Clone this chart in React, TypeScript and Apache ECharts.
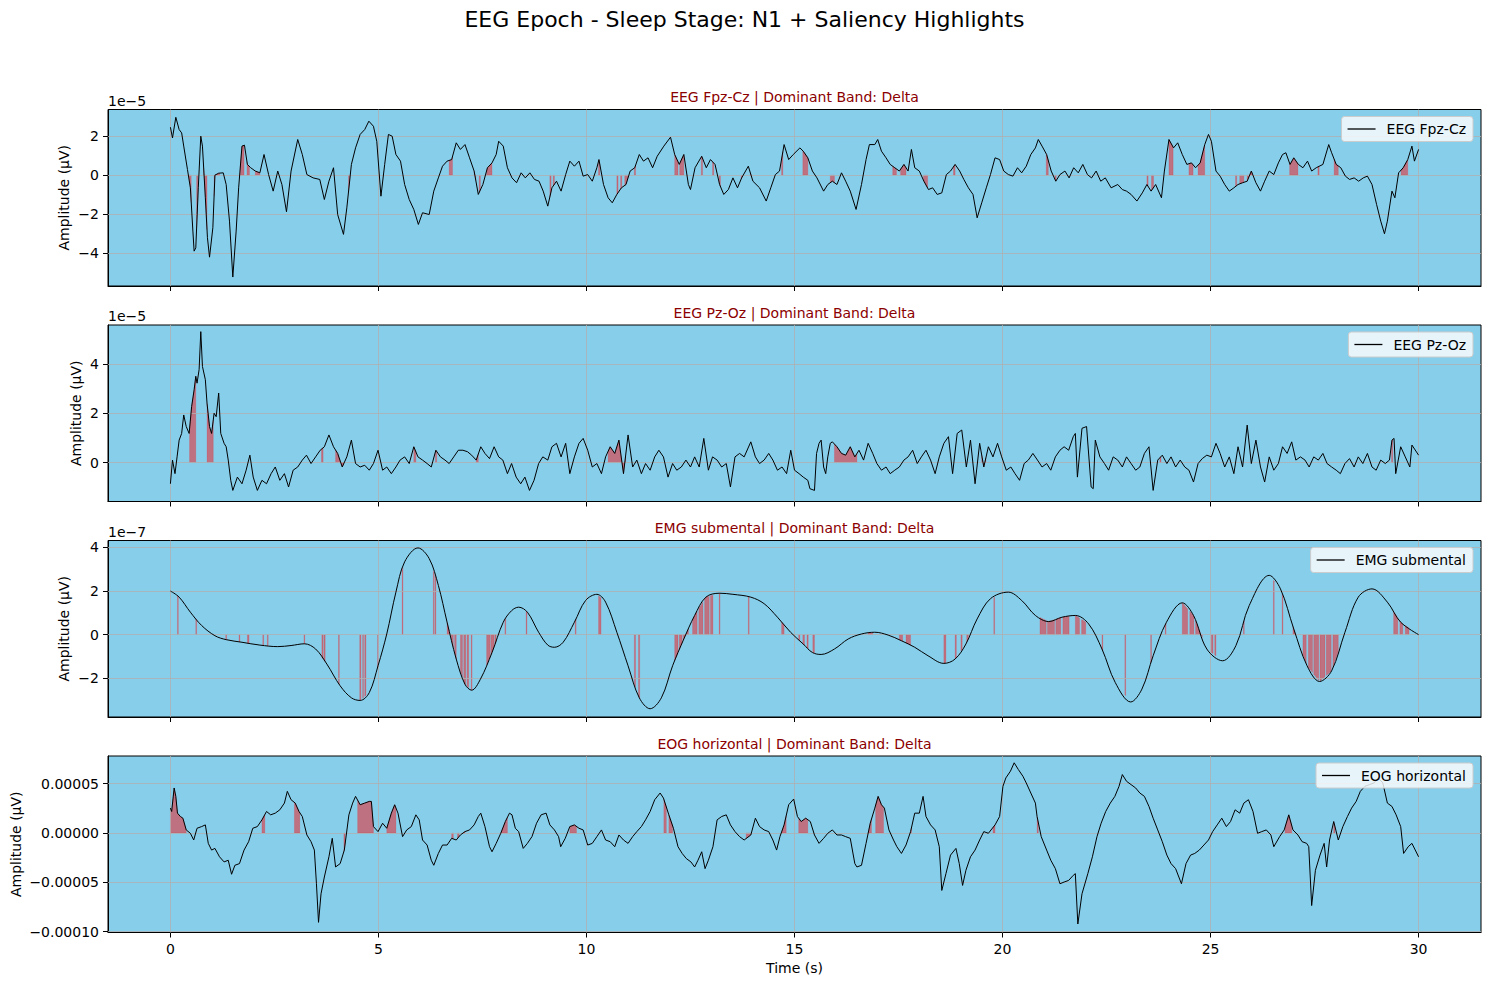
import { useEffect, useRef } from "react";
import * as echarts from "echarts";

const FONT = "DejaVu Sans";

// x ticks (seconds)
const X_TICKS = [0, 5, 10, 15, 20, 25, 30];

// EEG Fpz-Cz (units of 1e-5)
const FPZ_CZ: [number, number][] = [
    [0, 2.46], [0.05, 1.91], [0.13, 2.97], [0.21, 2.34], [0.27, 2.17], [0.32, 1.49], [0.41, 0.29], [0.48, -0.65],
    [0.54, -2.87], [0.57, -3.9], [0.61, -3.73], [0.67, -0.65], [0.73, 2.0], [0.77, 1.49], [0.84, -1.16], [0.89, -3.21],
    [0.94, -4.21], [1.02, -2.7], [1.07, 0], [1.16, 0.1], [1.27, 0.12], [1.34, -0.48], [1.42, -2.36], [1.5, -5.23],
    [1.58, -2.87], [1.64, -0.65], [1.72, 1.49], [1.78, 1.54], [1.85, 0.55], [1.93, 0.38], [2.04, 0.21], [2.15, 0.12],
    [2.25, 1.06], [2.36, 0.03], [2.47, -0.82], [2.58, 0.21], [2.68, -0.48], [2.79, -1.88], [2.9, 0.21], [3.06, 1.83],
    [3.17, 1.06], [3.28, 0.03], [3.43, -0.14], [3.59, -0.22], [3.7, -1.25], [3.81, -0.31], [3.92, 0.38], [4.02, -2.02],
    [4.16, -3.04], [4.24, -1.68], [4.35, 0.55], [4.45, 1.4], [4.56, 2.09], [4.67, 2.34], [4.77, 2.77], [4.88, 2.51],
    [4.96, 1.74], [5.06, -1.08], [5.15, 0.55], [5.24, 2.09], [5.33, 2.0], [5.42, 1.06], [5.53, 0.72], [5.63, -0.48],
    [5.74, -1.25], [5.85, -1.76], [5.96, -2.53], [6.06, -1.93], [6.22, -2.02], [6.33, -0.82], [6.44, -0.14], [6.54, 0.46],
    [6.65, 0.72], [6.76, 0.8], [6.87, 1.66], [6.97, 1.32], [7.08, 1.57], [7.19, 0.89], [7.3, 0.21], [7.4, -0.99],
    [7.51, -0.48], [7.62, 0.38], [7.73, 0.63], [7.83, 1.06], [7.89, 1.74], [8.0, 1.49], [8.1, 0.38], [8.21, -0.14],
    [8.32, -0.39], [8.43, 0.12], [8.53, -0.14], [8.64, 0.12], [8.75, -0.22], [8.86, -0.31], [8.96, -0.82], [9.07, -1.59],
    [9.17, -0.65], [9.28, -0.31], [9.39, -0.82], [9.5, 0.03], [9.6, 0.72], [9.71, 0.46], [9.82, 0.72], [9.92, -0.05],
    [10.03, 0.03], [10.14, -0.31], [10.25, 0.38], [10.3, 0.8], [10.41, -0.48], [10.52, -1.16], [10.62, -1.42], [10.73, -0.99],
    [10.84, -0.65], [10.95, -0.48], [11.05, 0.21], [11.16, 0.38], [11.27, 1.06], [11.37, 0.72], [11.48, 0.89], [11.59, 0.38],
    [11.7, 0.97], [11.86, 1.49], [12.02, 1.95], [12.12, 1.06], [12.23, 0.55], [12.34, 1.06], [12.45, -0.48], [12.5, -0.74],
    [12.61, 0.38], [12.77, 0.97], [12.88, 0.38], [12.98, 0.8], [13.09, 0.55], [13.2, -0.48], [13.3, -0.99], [13.41, -0.74],
    [13.52, -0.14], [13.63, -0.65], [13.73, -0.14], [13.89, 0.46], [14.0, -0.31], [14.16, -0.65], [14.32, -1.33], [14.43, -0.65],
    [14.54, 0.03], [14.64, 0.21], [14.75, 1.57], [14.86, 0.8], [14.97, 1.06], [15.13, 1.4], [15.21, 1.23], [15.32, 0.89],
    [15.43, 0.21], [15.54, -0.14], [15.7, -0.82], [15.8, -0.48], [15.91, -0.31], [16.02, -0.48], [16.13, 0.12], [16.23, -0.31],
    [16.34, -0.82], [16.48, -1.76], [16.61, -0.48], [16.72, 0.8], [16.8, 1.57], [16.93, 1.57], [17.0, 1.83], [17.09, 1.23],
    [17.2, 0.89], [17.3, 0.55], [17.41, 0.38], [17.52, 0.21], [17.63, 0.55], [17.73, 0.21], [17.81, 1.32], [17.89, 0.38],
    [18.0, 0.21], [18.11, -0.31], [18.22, -0.74], [18.32, -0.65], [18.43, -0.99], [18.54, -0.91], [18.65, 0.03], [18.75, 0.21],
    [18.86, 0.55], [18.97, 0.21], [19.07, -0.22], [19.18, -0.65], [19.29, -0.99], [19.39, -2.19], [19.5, -1.42], [19.61, -0.65],
    [19.71, 0.03], [19.82, 0.89], [19.93, 0.8], [20.03, 0.21], [20.14, 0.03], [20.25, -0.05], [20.36, 0.38], [20.46, 0.12],
    [20.57, 0.46], [20.68, 1.06], [20.79, 1.4], [20.86, 1.83], [20.95, 1.49], [21.06, 1.06], [21.17, 0.21], [21.28, -0.31],
    [21.38, 0.03], [21.5, 0.21], [21.6, -0.14], [21.71, 0.38], [21.82, 0.12], [21.93, 0.55], [22.04, 0.03], [22.14, -0.14],
    [22.25, 0.21], [22.36, -0.31], [22.47, -0.14], [22.61, -0.65], [22.77, -0.48], [22.88, -0.74], [22.98, -0.82], [23.09, -0.99],
    [23.23, -1.33], [23.36, -0.91], [23.47, -0.48], [23.57, -0.82], [23.68, -0.48], [23.82, -1.16], [23.89, 0.21], [24.0, 1.83],
    [24.11, 1.4], [24.21, 1.66], [24.32, 1.06], [24.43, 0.55], [24.54, 0.63], [24.64, 0.38], [24.75, 0.63], [24.86, 1.57],
    [24.95, 2.09], [25.02, 1.74], [25.13, 0.21], [25.23, -0.05], [25.34, -0.48], [25.45, -0.82], [25.56, -0.65], [25.66, -0.48],
    [25.77, -0.39], [25.88, -0.31], [25.98, 0.21], [26.09, -0.39], [26.2, -0.82], [26.3, -0.31], [26.41, 0.21], [26.52, 0.03],
    [26.63, 0.63], [26.73, 1.06], [26.81, 1.15], [26.91, 0.55], [27.0, 0.89], [27.11, 0.55], [27.22, 0.38], [27.33, 0.72],
    [27.43, 0.21], [27.54, 0.38], [27.7, 0.55], [27.84, 1.57], [27.91, 1.15], [28.02, 0.55], [28.13, 0.38], [28.24, -0.05],
    [28.34, -0.22], [28.45, -0.14], [28.56, -0.31], [28.67, -0.14], [28.77, -0.05], [28.88, -0.48], [28.99, -1.5], [29.09, -2.36],
    [29.18, -3.01], [29.25, -2.36], [29.36, -0.82], [29.43, -1.16], [29.52, 0.12], [29.63, 0.38], [29.74, 0.8], [29.84, 1.49],
    [29.9, 0.72], [30.0, 1.32],
];

// EEG Pz-Oz (units of 1e-5)
const PZ_OZ: [number, number][] = [
    [0, -0.86], [0.05, 0.1], [0.11, -0.45], [0.16, 0.23], [0.21, 0.91], [0.27, 1.18], [0.32, 1.93], [0.38, 1.46],
    [0.45, 1.18], [0.51, 2.27], [0.57, 2.95], [0.61, 3.5], [0.64, 3.22], [0.69, 3.77], [0.73, 5.31], [0.77, 3.9],
    [0.84, 3.36], [0.88, 2.41], [0.94, 1.46], [0.99, 1.18], [1.05, 2.0], [1.1, 1.86], [1.16, 2.82], [1.21, 1.18],
    [1.29, 0.78], [1.34, 0.64], [1.39, 0.1], [1.45, -0.72], [1.5, -1.13], [1.61, -0.59], [1.72, -0.86], [1.82, -0.31],
    [1.91, 0.3], [1.99, -0.59], [2.09, -1.13], [2.2, -0.72], [2.31, -0.86], [2.42, -0.45], [2.52, -0.18], [2.63, -0.72],
    [2.74, -0.45], [2.84, -0.99], [2.95, -0.31], [3.06, -0.18], [3.17, 0.1], [3.27, 0.3], [3.38, -0.04], [3.49, 0.23],
    [3.6, 0.5], [3.7, 0.64], [3.81, 1.12], [3.92, 0.64], [4.02, 0.37], [4.13, -0.18], [4.24, 0.23], [4.35, 0.91],
    [4.45, -0.04], [4.56, -0.18], [4.67, -0.11], [4.78, -0.31], [4.88, -0.04], [4.99, 0.5], [5.1, -0.31], [5.2, -0.18],
    [5.31, -0.45], [5.42, -0.18], [5.52, 0.1], [5.63, 0.23], [5.74, -0.04], [5.85, 0.64], [5.95, 0.23], [6.06, 0.1],
    [6.17, -0.04], [6.27, -0.18], [6.38, 0.5], [6.49, 0.23], [6.6, 0.1], [6.7, -0.04], [6.81, 0.23], [6.92, 0.5],
    [7.03, 0.5], [7.14, 0.44], [7.24, 0.3], [7.35, 0.1], [7.46, 0.64], [7.56, 0.37], [7.67, 0.16], [7.78, 0.64],
    [7.89, 0.23], [7.99, 0.1], [8.1, -0.45], [8.2, -0.04], [8.31, -0.59], [8.42, -0.86], [8.52, -0.59], [8.63, -1.13],
    [8.74, -0.72], [8.85, -0.04], [8.95, 0.23], [9.07, 0.1], [9.17, 0.64], [9.28, 0.78], [9.39, 0.23], [9.5, 0.78],
    [9.6, -0.45], [9.71, 0.23], [9.82, 0.78], [9.92, 0.98], [10.03, 0.5], [10.14, -0.18], [10.25, -0.04], [10.36, -0.45],
    [10.46, 0.23], [10.57, 0.64], [10.68, 0.37], [10.78, 0.91], [10.89, -0.45], [11.0, 1.12], [11.11, -0.18], [11.21, 0.1],
    [11.32, -0.45], [11.42, -0.04], [11.53, -0.31], [11.64, 0.23], [11.74, 0.5], [11.85, 0.23], [11.96, -0.59], [12.07, -0.04],
    [12.17, -0.31], [12.28, -0.18], [12.39, 0.1], [12.5, -0.18], [12.6, 0.23], [12.71, -0.18], [12.82, 0.98], [12.93, -0.31],
    [13.03, 0.23], [13.14, 0.1], [13.25, -0.18], [13.36, -0.04], [13.46, -0.99], [13.57, 0.23], [13.68, 0.37], [13.79, 0.23],
    [13.95, 0.84], [14.06, 0.23], [14.16, -0.04], [14.27, 0.1], [14.38, 0.37], [14.48, 0.1], [14.59, -0.31], [14.7, -0.18],
    [14.81, -0.45], [14.91, 0.5], [15.0, -0.31], [15.11, -0.45], [15.21, -0.59], [15.32, -0.72], [15.37, -1.06], [15.48, -1.13],
    [15.53, 0.37], [15.59, 0.78], [15.64, 0.91], [15.7, -0.18], [15.75, -0.45], [15.8, 0.23], [15.86, 0.78], [15.91, 0.84],
    [16.02, 0.64], [16.13, 0.37], [16.23, 0.3], [16.34, 0.64], [16.45, 0.23], [16.55, 0.5], [16.66, 0.1], [16.77, 0.78],
    [16.88, 0.37], [16.98, -0.04], [17.09, -0.31], [17.2, -0.18], [17.3, -0.45], [17.41, -0.31], [17.52, -0.18], [17.63, 0.1],
    [17.73, 0.23], [17.84, 0.5], [17.95, -0.04], [18.05, 0.23], [18.16, 0.5], [18.27, 0.1], [18.38, -0.45], [18.48, 0.23],
    [18.59, 0.78], [18.7, 1.05], [18.8, -0.45], [18.91, 1.18], [19.02, 1.32], [19.13, -0.18], [19.23, 0.91], [19.34, -0.86],
    [19.45, 0.78], [19.55, -0.18], [19.66, 0.64], [19.77, 0.23], [19.88, 0.78], [19.98, 0.23], [20.09, -0.31], [20.2, -0.18],
    [20.3, -0.45], [20.41, -0.72], [20.52, -0.04], [20.62, 0.1], [20.73, 0.37], [20.84, 0.1], [20.95, -0.18], [21.06, -0.04],
    [21.16, -0.31], [21.27, 0.23], [21.38, 0.5], [21.48, 0.64], [21.59, 0.5], [21.7, 1.05], [21.75, 1.18], [21.8, -0.59],
    [21.91, 1.39], [22.02, 1.46], [22.13, -0.99], [22.18, -1.06], [22.23, 0.91], [22.34, 0.23], [22.45, -0.04], [22.55, -0.31],
    [22.66, 0.23], [22.77, 0.1], [22.88, -0.18], [22.98, 0.23], [23.09, -0.04], [23.2, -0.31], [23.3, -0.18], [23.41, 0.37],
    [23.52, 0.64], [23.62, -1.13], [23.73, 0.1], [23.84, 0.3], [23.95, -0.04], [24.05, 0.23], [24.16, -0.18], [24.27, 0.1],
    [24.38, -0.18], [24.48, -0.31], [24.59, -0.79], [24.7, -0.04], [24.8, 0.16], [24.91, 0.3], [25.02, 0.23], [25.13, 0.78],
    [25.23, 0.37], [25.34, -0.18], [25.45, 0.23], [25.56, -0.45], [25.66, 0.64], [25.77, -0.18], [25.88, 1.52], [25.98, -0.04],
    [26.09, 0.91], [26.2, -0.18], [26.3, -0.79], [26.41, 0.23], [26.52, -0.31], [26.63, -0.04], [26.73, 0.64], [26.84, 0.37],
    [26.95, 0.84], [27.05, 0.1], [27.16, 0.23], [27.27, 0.1], [27.37, -0.18], [27.48, 0.23], [27.59, 0.1], [27.7, 0.37],
    [27.8, -0.04], [27.91, -0.18], [28.02, -0.31], [28.12, -0.45], [28.23, -0.04], [28.34, 0.16], [28.45, -0.18], [28.55, 0.23],
    [28.66, -0.04], [28.77, 0.37], [28.88, -0.18], [28.98, -0.31], [29.09, 0.1], [29.2, -0.04], [29.3, 0.1], [29.36, 0.91],
    [29.41, 0.98], [29.45, -0.45], [29.57, 0.64], [29.68, 0.23], [29.79, -0.18], [29.84, 0.71], [30.0, 0.3],
];

// EMG submental (units of 1e-7)
const EMG: [number, number][] = [
    [0, 2.0], [0.21, 1.72], [0.48, 1.03], [0.75, 0.42], [1.07, -0.05], [1.34, -0.23], [1.72, -0.35], [2.15, -0.48],
    [2.58, -0.55], [2.9, -0.5], [3.22, -0.42], [3.49, -0.66], [3.76, -1.35], [4.08, -2.35], [4.35, -2.9], [4.56, -3.02],
    [4.78, -2.66], [4.99, -1.43], [5.2, 0.03], [5.42, 1.95], [5.63, 3.34], [5.95, 3.98], [6.22, 3.49], [6.44, 2.26],
    [6.65, 0.57], [6.87, -1.12], [7.08, -2.28], [7.24, -2.55], [7.45, -2.05], [7.73, -0.82], [8.0, 0.57], [8.2, 1.1],
    [8.37, 1.26], [8.58, 1.03], [8.85, 0.11], [9.07, -0.48], [9.23, -0.58], [9.44, -0.35], [9.71, 0.57], [9.98, 1.57],
    [10.25, 1.85], [10.46, 1.49], [10.73, 0.11], [11.0, -1.43], [11.27, -2.9], [11.53, -3.4], [11.8, -2.9], [12.07, -1.43],
    [12.34, -0.2], [12.6, 0.88], [12.87, 1.72], [13.2, 1.9], [13.52, 1.85], [13.95, 1.72], [14.27, 1.42], [14.59, 0.8],
    [14.91, 0.1], [15.21, -0.43], [15.43, -0.82], [15.64, -0.91], [15.96, -0.66], [16.29, -0.2], [16.61, 0.03], [16.93, 0.11],
    [17.25, -0.02], [17.57, -0.28], [17.89, -0.58], [18.21, -0.97], [18.59, -1.32], [18.86, -1.12], [19.12, -0.43], [19.39, 0.72],
    [19.71, 1.65], [20.14, 1.95], [20.46, 1.57], [20.79, 0.88], [21.11, 0.6], [21.43, 0.8], [21.75, 0.88], [22.07, 0.49],
    [22.39, -0.66], [22.71, -2.2], [23.08, -3.09], [23.35, -2.5], [23.62, -0.97], [23.94, 0.57], [24.32, 1.46], [24.59, 0.88],
    [24.91, -0.66], [25.29, -1.2], [25.61, -0.5], [25.93, 1.34], [26.41, 2.72], [26.68, 2.1], [27.0, 0.26], [27.32, -1.43],
    [27.62, -2.15], [27.91, -1.66], [28.23, 0.11], [28.55, 1.72], [28.88, 2.1], [29.25, 1.49], [29.57, 0.57], [30.0, 0],
];

// EOG horizontal (units of 1e-5)
const EOG: [number, number][] = [
    [0, 2.52], [0.03, 2.18], [0.09, 4.56], [0.13, 3.71], [0.17, 2.01], [0.24, 1.67], [0.3, 1.5], [0.38, 0.31],
    [0.48, -0.03], [0.56, -0.71], [0.64, 0.48], [0.75, 0.65], [0.84, 0.82], [0.91, -1.05], [0.99, -1.73], [1.07, -1.56],
    [1.18, -2.41], [1.29, -2.93], [1.39, -2.76], [1.47, -4.18], [1.55, -3.27], [1.66, -3.1], [1.77, -1.73], [1.88, -0.88],
    [1.98, 0.48], [2.09, 0.65], [2.2, 1.33], [2.31, 2.18], [2.41, 1.84], [2.52, 2.01], [2.63, 2.35], [2.74, 3.03],
    [2.81, 4.22], [2.9, 3.37], [3.0, 3.03], [3.09, 2.18], [3.17, 1.67], [3.28, -0.2], [3.38, -0.88], [3.46, -1.73],
    [3.51, -5.14], [3.56, -9.05], [3.62, -6.16], [3.7, -4.46], [3.81, -2.41], [3.89, -0.54], [3.97, -3.44], [4.08, -3.1],
    [4.18, -1.73], [4.29, 1.84], [4.38, 3.03], [4.45, 3.71], [4.56, 2.86], [4.67, 3.03], [4.78, 3.2], [4.83, 3.2],
    [4.88, 0.65], [4.99, 0.14], [5.1, 0.99], [5.2, 0.48], [5.31, 2.01], [5.39, 2.86], [5.47, 2.01], [5.58, -0.37],
    [5.68, 0.31], [5.79, 0.65], [5.9, 1.84], [5.98, 1.33], [6.06, -0.71], [6.17, -1.22], [6.27, -2.76], [6.33, -3.27],
    [6.44, -2.07], [6.54, -1.22], [6.65, -1.22], [6.76, -0.54], [6.87, -0.71], [6.97, -0.2], [7.08, 0.14], [7.19, 0.31],
    [7.3, 0.82], [7.4, 1.67], [7.46, 2.01], [7.56, 0.65], [7.67, -1.39], [7.73, -1.9], [7.83, -1.05], [7.94, -0.03],
    [8.05, 1.16], [8.15, 2.01], [8.21, 1.84], [8.29, 0.48], [8.37, 0.14], [8.48, -1.56], [8.58, -1.05], [8.69, -0.37],
    [8.8, 0.99], [8.91, 1.84], [9.03, 2.01], [9.12, 0.82], [9.23, 0.31], [9.33, -0.37], [9.38, -1.39], [9.49, -0.54],
    [9.6, 0.65], [9.71, 0.82], [9.82, 0.48], [9.92, 0.31], [10.03, -1.22], [10.14, -1.05], [10.25, -0.37], [10.36, 0.31],
    [10.46, -0.71], [10.57, -0.88], [10.68, -1.39], [10.78, -0.2], [10.89, -0.71], [11.0, -1.05], [11.11, -0.37], [11.21, 0.14],
    [11.32, 0.65], [11.42, 1.33], [11.53, 2.18], [11.64, 3.37], [11.77, 4.05], [11.85, 3.54], [11.98, 1.84], [12.09, 0.48],
    [12.2, -1.39], [12.3, -2.07], [12.4, -2.59], [12.51, -2.93], [12.6, -3.44], [12.68, -2.76], [12.77, -1.9], [12.85, -3.61],
    [12.93, -2.76], [13.04, -1.39], [13.14, 1.33], [13.25, 1.67], [13.36, 1.84], [13.46, 0.82], [13.57, 0.14], [13.68, -0.37],
    [13.79, -0.71], [13.95, -0.2], [14.06, 1.5], [14.16, 0.65], [14.27, 0.31], [14.38, 0.14], [14.48, -0.71], [14.57, -1.73],
    [14.65, -0.37], [14.75, 0.82], [14.86, 2.86], [14.98, 3.44], [15.07, 1.67], [15.16, 1.16], [15.27, 1.5], [15.38, 1.16],
    [15.48, -0.2], [15.59, -1.05], [15.7, -0.54], [15.8, -0.03], [15.91, 0.31], [16.02, -0.2], [16.13, -0.2], [16.23, -0.37],
    [16.34, -0.54], [16.45, -3.1], [16.5, -3.44], [16.61, -3.27], [16.72, -1.05], [16.82, 0.99], [16.93, 2.52], [17.01, 3.71],
    [17.09, 2.86], [17.16, 2.52], [17.27, 0.31], [17.38, -0.71], [17.46, -1.39], [17.57, -2.07], [17.68, -1.22], [17.79, 0.14],
    [17.89, 2.01], [18.0, 2.01], [18.09, 3.71], [18.16, 1.67], [18.27, 0.82], [18.38, 0.31], [18.48, -1.39], [18.54, -5.82],
    [18.64, -4.12], [18.75, -2.24], [18.88, -1.56], [18.96, -3.1], [19.04, -5.31], [19.12, -3.78], [19.23, -2.41], [19.34, -1.73],
    [19.45, -0.71], [19.55, 0.14], [19.66, -0.03], [19.82, 0.82], [19.93, 1.67], [20.01, 4.73], [20.08, 5.58], [20.19, 6.26],
    [20.28, 7.11], [20.38, 6.43], [20.49, 5.75], [20.57, 5.07], [20.68, 4.05], [20.79, 3.03], [20.83, 1.67], [20.93, -0.37],
    [21.06, -1.73], [21.16, -2.76], [21.27, -3.61], [21.38, -5.14], [21.48, -4.97], [21.59, -4.8], [21.7, -4.29], [21.75, -4.12],
    [21.81, -9.22], [21.91, -6.16], [22.05, -4.12], [22.16, -2.41], [22.27, -0.37], [22.37, 0.99], [22.48, 2.18], [22.59, 3.03],
    [22.7, 3.71], [22.8, 4.73], [22.88, 5.92], [22.98, 5.24], [23.09, 4.9], [23.2, 4.56], [23.3, 4.05], [23.41, 3.71],
    [23.52, 2.69], [23.62, 1.5], [23.73, 0.31], [23.84, -0.88], [23.95, -2.24], [24.05, -3.1], [24.16, -3.61], [24.3, -5.14],
    [24.41, -3.1], [24.52, -2.24], [24.62, -2.07], [24.73, -1.73], [24.84, -1.22], [24.95, -0.71], [25.05, 0.14], [25.16, 0.82],
    [25.27, 1.5], [25.38, 0.65], [25.48, 1.16], [25.59, 2.35], [25.7, 2.01], [25.8, 3.03], [25.91, 3.37], [26.02, 2.18],
    [26.13, -0.03], [26.23, 0.14], [26.34, 0.31], [26.45, -0.2], [26.52, -1.39], [26.66, -0.37], [26.77, 0.31], [26.88, 1.84],
    [26.98, 0.31], [27.1, -0.2], [27.2, -0.88], [27.31, -1.05], [27.36, -1.39], [27.43, -7.35], [27.52, -3.78], [27.63, -2.24],
    [27.73, -1.05], [27.79, -3.44], [27.86, -0.71], [27.96, 1.16], [28.07, -0.71], [28.18, 0.65], [28.29, 1.67], [28.39, 2.52],
    [28.5, 3.2], [28.6, 4.22], [28.71, 4.73], [28.82, 4.9], [28.93, 5.07], [29.03, 5.58], [29.14, 5.07], [29.25, 3.03],
    [29.36, 2.69], [29.46, 1.84], [29.57, 0.65], [29.64, -2.07], [29.75, -1.39], [29.84, -1.05], [30.0, -2.41],
];

// saliency highlight intervals [start, end] in seconds
const HL_FPZ: [number, number][] = [
    [0.43, 0.5], [0.63, 0.66], [0.8, 0.88], [1.05, 1.18], [1.68, 1.77], [1.84, 1.9], [2.04, 2.15], [4.28, 4.31],
    [6.7, 6.78], [7.3, 7.34], [7.42, 7.45], [7.6, 7.73], [9.12, 9.15], [9.2, 9.23], [10.29, 10.32], [10.73, 10.76],
    [10.82, 10.85], [10.92, 11.0], [11.15, 11.18], [12.12, 12.2], [12.24, 12.34], [12.76, 12.79], [13.03, 13.06], [13.19, 13.22],
    [13.72, 13.75], [13.94, 13.97], [14.69, 14.72], [15.2, 15.32], [15.86, 15.96], [17.36, 17.45], [17.55, 17.68], [18.1, 18.2],
    [18.82, 18.86], [21.05, 21.1], [21.26, 21.29], [23.47, 23.5], [23.58, 23.63], [24.0, 24.1], [24.48, 24.58], [24.7, 24.86],
    [25.6, 25.63], [25.7, 25.8], [25.88, 26.0], [26.9, 27.1], [27.58, 27.61], [27.97, 28.07], [29.58, 29.74],
];
const HL_PZ: [number, number][] = [
    [0.46, 0.61], [0.88, 1.03], [3.63, 3.67], [3.97, 4.18], [5.85, 5.9], [6.37, 6.4], [7.35, 7.4], [10.52, 10.94],
    [15.96, 16.5], [19.5, 19.6], [23.78, 23.81], [29.35, 29.38],
];
const HL_EMG: [number, number][] = [
    [0.17, 0.19], [0.61, 0.63], [1.33, 1.35], [1.65, 1.67], [1.85, 1.89], [2.22, 2.24], [2.33, 2.35], [3.21, 3.23],
    [3.64, 3.67], [3.69, 3.72], [4.04, 4.06], [4.55, 4.58], [4.62, 4.64], [4.67, 4.7], [4.98, 5.0], [5.57, 5.59],
    [6.32, 6.34], [6.36, 6.38], [6.65, 6.72], [6.75, 6.8], [6.83, 6.87], [6.97, 7.02], [7.05, 7.1], [7.13, 7.17],
    [7.23, 7.25], [7.6, 7.68], [7.7, 7.78], [7.8, 7.83], [8.04, 8.06], [8.55, 8.57], [9.73, 9.75], [10.29, 10.35],
    [11.15, 11.18], [11.25, 11.28], [12.12, 12.2], [12.23, 12.3], [12.33, 12.45], [12.55, 12.66], [12.7, 12.8], [12.84, 12.95],
    [12.98, 13.04], [13.19, 13.21], [13.89, 13.91], [14.69, 14.75], [15.1, 15.13], [15.2, 15.24], [15.3, 15.33], [15.44, 15.48],
    [16.77, 16.88], [17.52, 17.6], [17.68, 17.79], [18.59, 18.64], [18.86, 18.89], [19.0, 19.03], [19.14, 19.18], [19.79, 19.81],
    [20.9, 21.05], [21.08, 21.25], [21.28, 21.4], [21.45, 21.6], [21.75, 21.85], [21.9, 22.0], [22.39, 22.41], [22.94, 22.96],
    [23.56, 23.58], [23.91, 23.93], [24.32, 24.45], [24.5, 24.6], [24.64, 24.8], [25.02, 25.06], [25.1, 25.13], [25.79, 25.81],
    [26.51, 26.53], [26.72, 26.74], [26.98, 27.05], [27.22, 27.3], [27.35, 27.45], [27.48, 27.6], [27.63, 27.75], [27.78, 27.9],
    [27.94, 28.07], [29.4, 29.5], [29.55, 29.62], [29.68, 29.77],
];
const HL_EOG: [number, number][] = [
    [0, 0.38], [2.2, 2.27], [2.98, 3.11], [4.17, 4.2], [4.5, 4.88], [5.2, 5.42], [6.76, 6.8], [6.9, 6.94],
    [7.02, 7.08], [7.94, 8.1], [9.6, 9.76], [11.86, 11.92], [11.98, 12.07], [13.84, 13.95], [14.7, 14.8], [15.1, 15.32],
    [16.77, 16.85], [16.95, 17.14], [17.78, 17.81], [19.77, 19.82], [20.83, 20.86], [26.79, 26.95], [27.96, 27.99],
];

const CHANNELS = ["EEG Fpz-Cz", "EEG Pz-Oz", "EMG submental", "EOG horizontal"];
const SIGNALS = [FPZ_CZ, PZ_OZ, EMG, EOG];
const HIGHLIGHTS = [HL_FPZ, HL_PZ, HL_EMG, HL_EOG];
const Y_TICKS = [
    [-4, -2, 0, 2],
    [0, 2, 4],
    [-2, 0, 2, 4],
    [-10, -5, 0, 5],
];
const Y_RANGE = [
    [-5.69, 3.37],
    [-1.58, 5.58],
    [-3.78, 4.32],
    [-10.08, 7.8],
];
const OFFSET_TEXT = ["1e\u22125", "1e\u22125", "1e\u22127", ""];

// layout (px)
const W = 1489;
const H = 985;
const LEFT = 108;
const PLOT_W = 1373;
const PLOT_H = 176.5;
const TOPS = [109.5, 325, 540.5, 756];
const YLABEL_X = [64, 76, 64, 16];

const minus = (s: string) => s.replace("-", "\u2212");
const fmtPlain = (v: number) => minus(String(v));
const fmtEog = (v: number) => minus((v * 1e-5).toFixed(5));

function valueAt(sig: [number, number][], t: number): number {
    if (t <= sig[0][0]) return sig[0][1];
    for (let i = 1; i < sig.length; i++) {
        if (sig[i][0] >= t) {
            const [t0, v0] = sig[i - 1];
            const [t1, v1] = sig[i];
            return v0 + ((v1 - v0) * (t - t0)) / (t1 - t0);
        }
    }
    return sig[sig.length - 1][1];
}

const txt = { color: "#000", fontFamily: FONT, fontSize: 14 };

export default function App() {
    const ref = useRef<HTMLDivElement | null>(null);

    useEffect(() => {
        if (!ref.current) return;
        const chart = echarts.init(ref.current, undefined, { renderer: "svg" });

        const series: any[] = [];
        CHANNELS.forEach((name, i) => {
            const sig = SIGNALS[i];
            // saliency fill (fill_between 0 and the signal)
            series.push({
                type: "custom",
                xAxisIndex: i,
                yAxisIndex: i,
                z: 1,
                silent: true,
                data: HIGHLIGHTS[i],
                renderItem: (_p: any, api: any) => {
                    const a = api.value(0);
                    const b = api.value(1);
                    const pts: number[][] = [[a, 0], [a, valueAt(sig, a)]];
                    sig.forEach((d) => {
                        if (d[0] > a && d[0] < b) pts.push(d);
                    });
                    pts.push([b, valueAt(sig, b)], [b, 0]);
                    return {
                        type: "polygon",
                        shape: { points: pts.map((p) => api.coord(p)) },
                        style: { fill: "rgba(255,0,0,0.45)", stroke: "rgba(255,0,0,0.3)", lineWidth: 0.5 },
                    };
                },
            });
            series.push({
                name,
                type: "line",
                xAxisIndex: i,
                yAxisIndex: i,
                data: sig,
                z: 3,
                symbol: "none",
                showSymbol: false,
                smooth: i === 2 ? 0.35 : false,
                lineStyle: { color: "#000", width: 1 },
                itemStyle: { color: "#000" },
                emphasis: { disabled: true },
                markLine: {
                    silent: true,
                    z: 2,
                    symbol: ["none", "none"],
                    label: { show: false },
                    emphasis: { disabled: true },
                    lineStyle: { color: "#b0b0b0", width: 0.8, type: "solid" },
                    data: [
                        ...X_TICKS.map((v) => ({ xAxis: v })),
                        ...Y_TICKS[i].map((v) => ({ yAxis: v })),
                    ],
                },
            });
        });

        const graphic: any[] = [
            {
                type: "text",
                x: W / 2,
                y: 19,
                style: { text: "EEG Epoch - Sleep Stage: N1 + Saliency Highlights", fill: "#000", font: `22px "${FONT}"`, align: "center", verticalAlign: "middle" },
            },
            {
                type: "text",
                x: LEFT + PLOT_W / 2,
                y: 968,
                style: { text: "Time (s)", fill: "#000", font: `14px "${FONT}"`, align: "center", verticalAlign: "middle" },
            },
        ];
        CHANNELS.forEach((name, i) => {
            graphic.push({
                type: "text",
                x: LEFT + PLOT_W / 2,
                y: TOPS[i] - 12.5,
                style: { text: `${name} | Dominant Band: Delta`, fill: "#8B0000", font: `14px "${FONT}"`, align: "center", verticalAlign: "middle" },
            });
            graphic.push({
                type: "text",
                x: YLABEL_X[i],
                y: TOPS[i] + PLOT_H / 2,
                rotation: Math.PI / 2,
                style: { text: "Amplitude (\u00b5V)", fill: "#000", font: `14px "${FONT}"`, align: "center", verticalAlign: "middle" },
            });
            if (OFFSET_TEXT[i]) {
                graphic.push({
                    type: "text",
                    x: LEFT,
                    y: TOPS[i] - 9,
                    style: { text: OFFSET_TEXT[i], fill: "#000", font: `14px "${FONT}"`, align: "left", verticalAlign: "middle" },
                });
            }
        });

        chart.setOption({
            animation: false,
            backgroundColor: "#fff",
            grid: TOPS.map((top) => ({
                left: LEFT,
                top,
                width: PLOT_W,
                height: PLOT_H,
                show: true,
                backgroundColor: "#87CEEB",
                borderColor: "#000",
                borderWidth: 1,
            })),
            xAxis: TOPS.map((_, i) => ({
                type: "value",
                gridIndex: i,
                min: -1.5,
                max: 31.5,
                axisLine: { show: true, onZero: false, lineStyle: { color: "#000", width: 1 } },
                axisTick: { show: true, inside: false, length: 5, customValues: X_TICKS, lineStyle: { color: "#000", width: 1 } },
                axisLabel: { show: i === 3, customValues: X_TICKS, margin: 9, ...txt },
                splitLine: { show: false },
            })),
            yAxis: TOPS.map((_, i) => ({
                type: "value",
                gridIndex: i,
                min: Y_RANGE[i][0],
                max: Y_RANGE[i][1],
                axisLine: { show: true, onZero: false, lineStyle: { color: "#000", width: 1 } },
                axisTick: { show: true, inside: false, length: 5, customValues: Y_TICKS[i], lineStyle: { color: "#000", width: 1 } },
                axisLabel: {
                    customValues: Y_TICKS[i],
                    margin: 9,
                    formatter: i === 3 ? fmtEog : fmtPlain,
                    ...txt,
                },
                splitLine: { show: false },
            })),
            legend: CHANNELS.map((name, i) => ({
                data: [name],
                right: 16,
                top: TOPS[i] + 7,
                icon: "rect",
                itemWidth: 28,
                itemHeight: 1.3,
                selectedMode: false,
                backgroundColor: "rgba(255,255,255,0.8)",
                borderColor: "#cccccc",
                borderWidth: 1,
                borderRadius: 3,
                padding: [5, 7, 5, 6],
                itemStyle: { color: "#000" },
                textStyle: { ...txt, lineHeight: 15, padding: [0, 0, 0, 6] },
            })),
            graphic,
            series,
        });

        return () => chart.dispose();
    }, []);

    return <div ref={ref} style={{ position: "absolute", left: 0, top: 0, width: W, height: H, background: "#fff" }} />;
}
